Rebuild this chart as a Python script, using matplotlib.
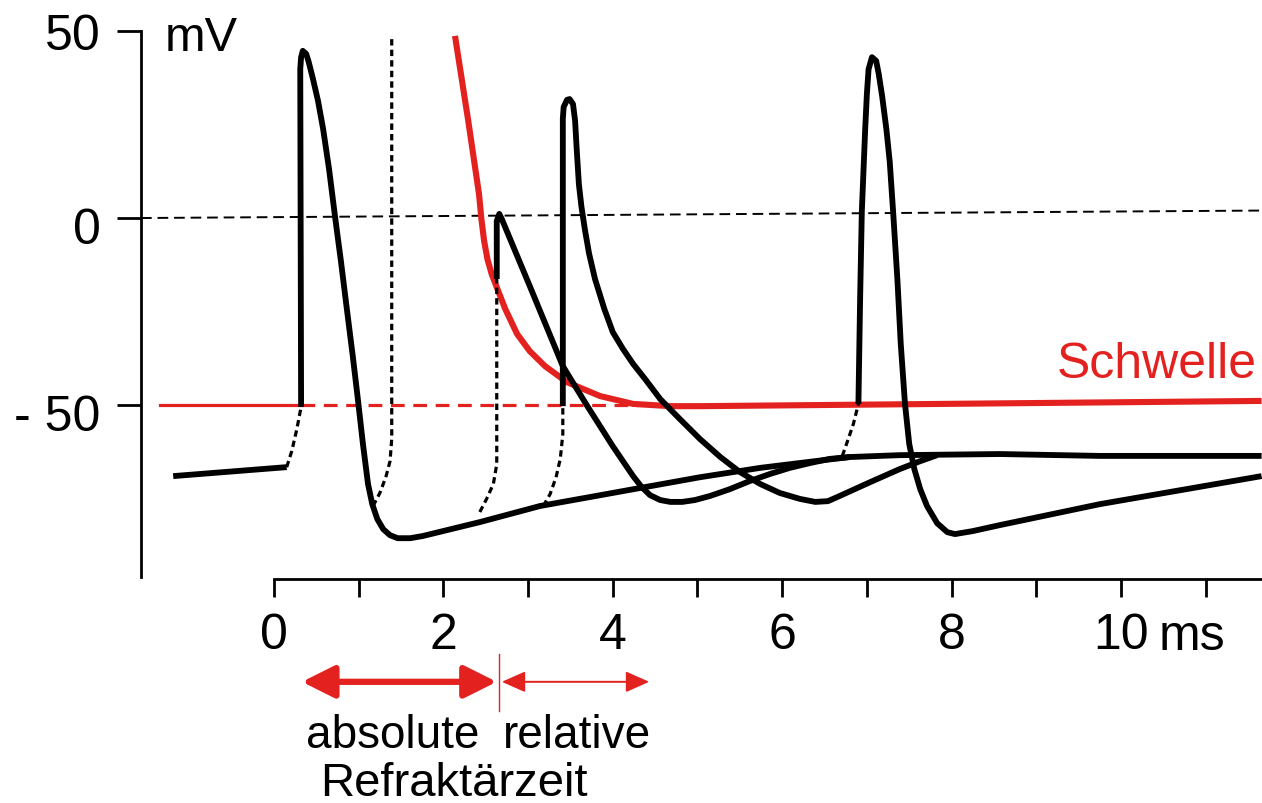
import matplotlib.pyplot as plt
from matplotlib.transforms import ScaledTranslation

plt.rcParams['font.family'] = ['Liberation Sans', 'DejaVu Sans']

RED = '#e3221f'

# time [ms] / membrane potential [mV]
pre_t = [-1.19, 0.15]
pre_v = [-69.0, -66.6]

# 1st action potential + slow recovery to the resting level
ap1_t = [0.32, 0.31, 0.32, 0.34, 0.38, 0.41, 0.46, 0.52, 0.58, 0.65, 0.72, 0.79, 0.86,
         0.93, 0.99, 1.05, 1.11, 1.16, 1.22, 1.29, 1.37, 1.46, 1.61, 1.76, 2.43, 3.14,
         3.73, 4.44, 5.03, 5.74, 6.39, 6.80, 7.39, 8.57, 9.75, 11.66]
ap1_v = [-50.5, 39.8, 43.0, 44.7, 43.9, 41.7, 37.2, 31.3, 23.8, 13.1, 0.5, -11.5, -24.3,
         -36.9, -48.4, -60.4, -71.1, -76.5, -80.5, -83.2, -84.8, -85.6, -85.6, -85.0,
         -81.3, -77.0, -74.6, -71.7, -69.3, -66.8, -65.0, -63.9, -63.4, -63.1, -63.6,
         -63.6]

# 2nd (small) action potential
ap2_t = [2.63, 2.63, 2.66, 2.69, 3.02, 3.41, 3.70, 4.00, 4.24, 4.34, 4.44, 4.56, 4.68,
         4.82, 4.97, 5.15, 5.38, 5.62, 5.86, 6.09, 6.33, 6.56, 6.80]
ap2_v = [-16.3, -0.8, 1.1, -0.3, -18.2, -39.6, -50.3, -61.0, -69.0, -71.9, -74.1, -75.4,
         -75.9, -75.9, -75.4, -74.3, -72.5, -70.3, -68.4, -66.8, -65.5, -64.4, -63.9]

# 3rd action potential
ap3_t = [3.41, 3.41, 3.42, 3.46, 3.49, 3.53, 3.555, 3.575, 3.60, 3.63, 3.67, 3.72, 3.79,
         3.90, 4.00, 4.12, 4.24, 4.38, 4.56, 4.79, 5.03, 5.27, 5.50, 5.74, 5.97, 6.21,
         6.39, 6.54, 6.68, 7.04, 7.39, 7.63, 7.83]
ap3_v = [-50.3, 26.5, 29.7, 31.6, 31.8, 30.5, 26.0, 18.0, 9.0, 3.0, -3.0, -9.5, -16.3,
         -24.3, -30.5, -35.0, -39.0, -43.0, -48.4, -53.7, -59.1, -63.9, -67.9, -71.1,
         -73.5, -75.1, -75.9, -75.7, -74.3, -70.6, -67.1, -65.0, -63.4]

# 4th action potential
ap4_t = [6.90, 6.92, 6.94, 6.98, 7.00, 7.02, 7.06, 7.11, 7.14, 7.18, 7.23, 7.27, 7.31,
         7.36, 7.40, 7.45, 7.50, 7.56, 7.63, 7.71, 7.83, 7.95, 8.04, 8.25, 8.57, 9.75,
         11.66]
ap4_v = [-49.7, -21.7, 1.6, 23.8, 33.2, 39.8, 43.0, 42.0, 38.5, 32.6, 23.8, 15.0, 1.6,
         -16.3, -33.7, -49.7, -60.4, -67.1, -72.5, -77.0, -81.6, -84.0, -84.5, -83.7,
         -82.1, -76.5, -69.0]

# dotted depolarisations up to threshold
dot1_t = [0.15, 0.21, 0.27, 0.32]
dot1_v = [-66.6, -62.3, -56.4, -50.5]
dot_abs_t = [1.17, 1.25, 1.32, 1.37, 1.39, 1.39]
dot_abs_v = [-77.0, -73.5, -69.3, -65.0, -59.1, 47.9]
dot2_t = [2.43, 2.51, 2.59, 2.63, 2.63]
dot2_v = [-78.6, -75.1, -71.1, -65.8, -16.3]
dot3_t = [3.18, 3.26, 3.33, 3.38, 3.41, 3.41]
dot3_v = [-77.0, -73.8, -69.3, -64.4, -57.8, -50.3]
dot4_t = [6.71, 6.78, 6.84, 6.90]
dot4_v = [-63.6, -59.1, -55.1, -49.7]

# threshold ("Schwelle")
thr_rest = -50.0
thr_t = [2.137, 2.29, 2.42, 2.45, 2.48, 2.52, 2.57, 2.63, 2.73, 2.87, 3.02, 3.20, 3.46,
         3.85, 4.24, 4.68, 5.03, 11.66]
thr_v = [48.7, 26.5, 6.5, -0.5, -6.0, -11.0, -15.0, -18.5, -24.3, -31.0, -35.6, -39.6,
         -43.9, -47.6, -49.7, -50.3, -50.3, -48.9]

# refractory periods [ms]
abs_start, abs_end, rel_end = 0.33, 2.66, 4.43

fig = plt.figure(figsize=(12.62, 8.04), dpi=100)
ax = fig.add_axes([0, 0, 1, 1])
ax.set_xlim(-3.235, 11.665)
ax.set_ylim(-156.4, 58.56)
ax.patch.set_alpha(0)

fs = 36
blk = dict(color='black', lw=4.2, solid_capstyle='butt', solid_joinstyle='round')
dots = dict(color='black', lw=2.3, linestyle=(0, (2.0, 1.3)))

# zero line
ax.plot([-1.57, 11.665], [0, 2], color='black', lw=1.4, linestyle=(0, (5.5, 3)))

# threshold lines
ax.plot([-1.35, 0.32], [thr_rest, thr_rest], color=RED, lw=2.3)
ax.plot([0.32, 4.3], [thr_rest, thr_rest], color=RED, lw=2.3, linestyle=(0, (4.3, 2.7)))
ax.plot(thr_t, thr_v, color=RED, lw=4.4, solid_capstyle='butt', solid_joinstyle='round')

for t, v in [(dot1_t, dot1_v), (dot_abs_t, dot_abs_v), (dot2_t, dot2_v),
             (dot3_t, dot3_v), (dot4_t, dot4_v)]:
    ax.plot(t, v, **dots)

ax.plot(pre_t, pre_v, **blk)
for t, v in [(ap1_t, ap1_v), (ap2_t, ap2_v), (ap3_t, ap3_v), (ap4_t, ap4_v)]:
    ax.plot(t, v, **blk)

# axes
for s in ['top', 'right']:
    ax.spines[s].set_visible(False)
ax.spines['left'].set_position(('data', -1.57))
ax.spines['left'].set_bounds(-96, 50)
ax.spines['bottom'].set_position(('data', -96.5))
ax.spines['bottom'].set_bounds(0, 11.665)
for s in ['left', 'bottom']:
    ax.spines[s].set_linewidth(2.0)

ax.set_yticks([50, 0, -50], ['50', '0', '- 50'])
ax.set_xticks(range(0, 12), ['0', '', '2', '', '4', '', '6', '', '8', '', '10', ''])
ax.tick_params(axis='y', direction='out', length=17, width=2.0, pad=12, labelsize=fs)
ax.tick_params(axis='x', direction='out', length=13, width=2.0, pad=11, labelsize=fs)
for lab in ax.get_yticklabels()[1:]:
    lab.set_transform(lab.get_transform() + ScaledTranslation(0, -0.07, fig.dpi_scale_trans))

ax.text(-1.29, 48.4, 'mV', fontsize=35, va='center', ha='left')
ax.text(10.84, -111.8, 'ms', fontsize=fs, va='center', ha='center')
ax.text(11.6, -39, 'Schwelle', fontsize=fs, color=RED, va='center', ha='right')

# refractory arrows
ax.annotate('', xy=(abs_start, -124), xytext=(abs_end - 0.03, -124),
            arrowprops=dict(arrowstyle='<|-|>,head_length=0.9,head_width=0.45',
                            color=RED, lw=4.5, shrinkA=0, shrinkB=0, mutation_scale=22))
ax.annotate('', xy=(abs_end + 0.03, -124), xytext=(rel_end, -124),
            arrowprops=dict(arrowstyle='<|-|>,head_length=0.9,head_width=0.4',
                            color=RED, lw=1.4, shrinkA=0, shrinkB=0, mutation_scale=16))
ax.plot([abs_end, abs_end], [-116.6, -131.8], color=RED, lw=1)

ax.text(1.40, -138.3, 'absolute', fontsize=33, ha='center', va='center')
ax.text(3.58, -138.3, 'relative', fontsize=33, ha='center', va='center')
ax.text(2.12, -151.0, 'Refraktärzeit', fontsize=34, ha='center', va='center')

fig.savefig('out.png', dpi=100)
